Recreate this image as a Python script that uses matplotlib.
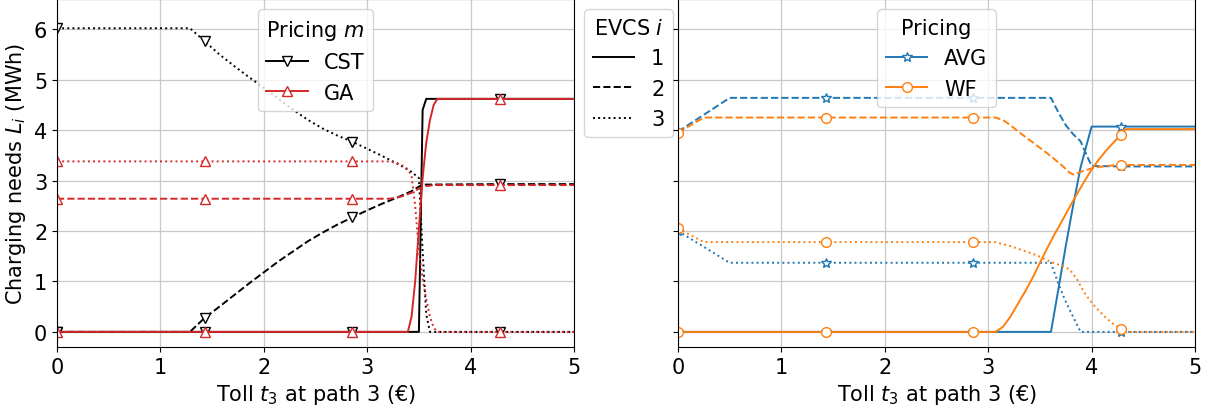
import numpy as np
import matplotlib
matplotlib.use("Agg")
import matplotlib.pyplot as plt
from matplotlib.lines import Line2D

# toll values where the markers sit
mark_t = [0.0, 1.429, 2.857, 4.286]

# ---- left panel: CST and GA pricing ----
t_cst1 = [0, 1.429, 2.857, 3.5, 3.536, 3.571, 4.286, 5]
l_cst1 = [0, 0, 0, 0, 4.4, 4.62, 4.62, 4.62]

t_cst2 = [0, 1.286, 1.429, 1.571, 1.714, 1.857, 2.0, 2.143, 2.286, 2.429, 2.571,
          2.714, 2.857, 3.0, 3.143, 3.286, 3.429, 3.5, 3.536, 4.286, 5]
l_cst2 = [0, 0, 0.28, 0.5, 0.73, 0.96, 1.18, 1.4, 1.6, 1.8, 1.97,
          2.13, 2.27, 2.41, 2.54, 2.66, 2.79, 2.88, 2.92, 2.93, 2.93]

t_cst3 = [0, 1.286, 1.429, 1.571, 1.714, 1.857, 2.0, 2.143, 2.286, 2.429, 2.571, 2.714,
          2.857, 3.0, 3.143, 3.286, 3.357, 3.429, 3.5, 3.536, 3.571, 3.607, 4.286, 5]
l_cst3 = [6.02, 6.02, 5.76, 5.5, 5.27, 5.05, 4.84, 4.62, 4.4, 4.2, 4.03, 3.89,
          3.77, 3.63, 3.49, 3.34, 3.26, 3.17, 3.05, 1.6, 0.35, 0, 0, 0]

t_ga1 = [0, 1.429, 2.857, 3.393, 3.429, 3.464, 3.5, 3.536, 3.571, 3.607, 3.643, 3.679, 4.286, 5]
l_ga1 = [0, 0, 0, 0, 0.3, 1.0, 2.05, 3.05, 3.75, 4.2, 4.5, 4.62, 4.62, 4.62]

t_ga2 = [0, 1.429, 2.857, 3.214, 3.286, 3.357, 3.429, 3.5, 3.571, 3.643, 4.286, 5]
l_ga2 = [2.64, 2.64, 2.64, 2.64, 2.66, 2.7, 2.76, 2.84, 2.89, 2.91, 2.91, 2.91]

t_ga3 = [0, 1.429, 2.857, 3.214, 3.286, 3.357, 3.393, 3.429, 3.464, 3.5, 3.536,
         3.571, 3.607, 3.643, 3.679, 4.286, 5]
l_ga3 = [3.38, 3.38, 3.38, 3.38, 3.35, 3.28, 3.22, 3.1, 2.5, 1.6, 1.05,
         0.65, 0.3, 0.08, 0, 0, 0]

# ---- right panel: AVG and WF pricing ----
t_avg1 = [0, 1.429, 2.857, 3.607, 3.679, 3.75, 3.821, 3.893, 3.964, 4.0, 4.286, 5]
l_avg1 = [0, 0, 0, 0, 0.85, 1.7, 2.5, 3.26, 3.8, 4.07, 4.07, 4.07]

t_avg2 = [0, 0.5, 1.429, 2.857, 3.607, 3.679, 3.75, 3.821, 3.893, 3.964, 4.0, 4.286, 5]
l_avg2 = [3.97, 4.64, 4.64, 4.64, 4.64, 4.35, 4.1, 3.92, 3.78, 3.45, 3.29, 3.28, 3.28]

t_avg3 = [0, 0.5, 1.429, 2.857, 3.607, 3.679, 3.75, 3.821, 3.893, 4.286, 5]
l_avg3 = [2.0, 1.37, 1.37, 1.37, 1.37, 0.95, 0.6, 0.3, 0, 0, 0]

t_wf1 = [0, 1.429, 2.857, 3.071, 3.143, 3.214, 3.286, 3.357, 3.429, 3.5, 3.571, 3.643,
         3.714, 3.786, 3.857, 3.929, 4.0, 4.071, 4.143, 4.214, 4.286, 4.321, 5]
l_wf1 = [0, 0, 0, 0, 0.1, 0.3, 0.55, 0.8, 1.07, 1.37, 1.66, 1.94,
         2.2, 2.47, 2.73, 2.98, 3.22, 3.42, 3.6, 3.76, 3.91, 4.02, 4.02]

t_wf2 = [0, 0.25, 1.429, 2.857, 3.071, 3.143, 3.214, 3.286, 3.357, 3.429, 3.5, 3.571,
         3.643, 3.714, 3.786, 3.821, 3.857, 3.929, 4.0, 4.071, 4.143, 4.214, 4.286, 5]
l_wf2 = [3.95, 4.25, 4.25, 4.25, 4.25, 4.2, 4.1, 3.98, 3.87, 3.76, 3.65, 3.54,
         3.42, 3.3, 3.16, 3.12, 3.14, 3.2, 3.24, 3.27, 3.29, 3.3, 3.31, 3.31]

t_wf3 = [0, 0.25, 1.429, 2.857, 3.071, 3.143, 3.214, 3.286, 3.357, 3.429, 3.5, 3.571,
         3.643, 3.714, 3.786, 3.857, 3.929, 4.0, 4.071, 4.143, 4.214, 4.286, 4.321, 5]
l_wf3 = [2.05, 1.78, 1.78, 1.78, 1.78, 1.74, 1.7, 1.65, 1.6, 1.55, 1.49, 1.42,
         1.36, 1.31, 1.24, 1.05, 0.78, 0.58, 0.42, 0.27, 0.15, 0.06, 0, 0]

evcs_styles = ["-", "--", ":"]
evcs_labels = ["1", "2", "3"]

plt.rcParams["font.size"] = 15
MS = 7


def draw(ax, t, l, color, marker, ls):
    # markers only at the shared toll values
    idx = [i for i, v in enumerate(t) if np.any(np.isclose(v, mark_t, atol=1e-3))]
    ax.plot(t, l, color=color, ls=ls, lw=1.4, marker=marker, markevery=idx,
            markersize=MS, markerfacecolor="white", markeredgecolor=color, markeredgewidth=1.0)


def setup(ax):
    ax.set_xlim(0, 5)
    ax.set_ylim(-0.3, 6.6)
    ax.set_xticks(range(6))
    ax.set_yticks(range(7))
    ax.grid(True, color="#c8c8c8", lw=0.9)
    ax.set_xlabel("Toll $t_3$ at path 3 (€)")


fig = plt.figure(figsize=(12.08, 4.1), dpi=100)
ax1 = fig.add_axes([57 / 1208, 62 / 410, 517 / 1208, 348 / 410])
ax2 = fig.add_axes([678 / 1208, 62 / 410, 517 / 1208, 348 / 410], sharey=ax1)

left = [
    ("black", "v", [(t_cst1, l_cst1), (t_cst2, l_cst2), (t_cst3, l_cst3)]),
    ("#d62728", "^", [(t_ga1, l_ga1), (t_ga2, l_ga2), (t_ga3, l_ga3)]),
]
right = [
    ("#1f77b4", "*", [(t_avg1, l_avg1), (t_avg2, l_avg2), (t_avg3, l_avg3)]),
    ("#ff7f0e", "o", [(t_wf1, l_wf1), (t_wf2, l_wf2), (t_wf3, l_wf3)]),
]

for ax, groups in [(ax1, left), (ax2, right)]:
    for color, marker, series in groups:
        for (t, l), ls in zip(series, evcs_styles):
            draw(ax, t, l, color, marker, ls)
    setup(ax)

ax1.set_ylabel("Charging needs $L_i$ (MWh)")
ax2.tick_params(labelleft=False)


def pricing_handles(groups, names):
    return [Line2D([], [], color=c, marker=m, markersize=MS, markerfacecolor="white",
                   markeredgecolor=c, lw=1.4, label=n) for (c, m, _), n in zip(groups, names)]


leg1 = ax1.legend(handles=pricing_handles(left, ["CST", "GA"]), title="Pricing $m$",
                  loc="upper center", title_fontsize=15)
ax1.add_artist(leg1)
evcs_handles = [Line2D([], [], color="black", ls=s, lw=1.4, label=n)
                for s, n in zip(evcs_styles, evcs_labels)]
ax1.legend(handles=evcs_handles, title="EVCS $i$", loc="upper left",
           bbox_to_anchor=(1.0, 1.0), title_fontsize=15)
ax2.legend(handles=pricing_handles(right, ["AVG", "WF"]), title="Pricing",
           loc="upper center", title_fontsize=15)

fig.savefig("out.png", dpi=100)
